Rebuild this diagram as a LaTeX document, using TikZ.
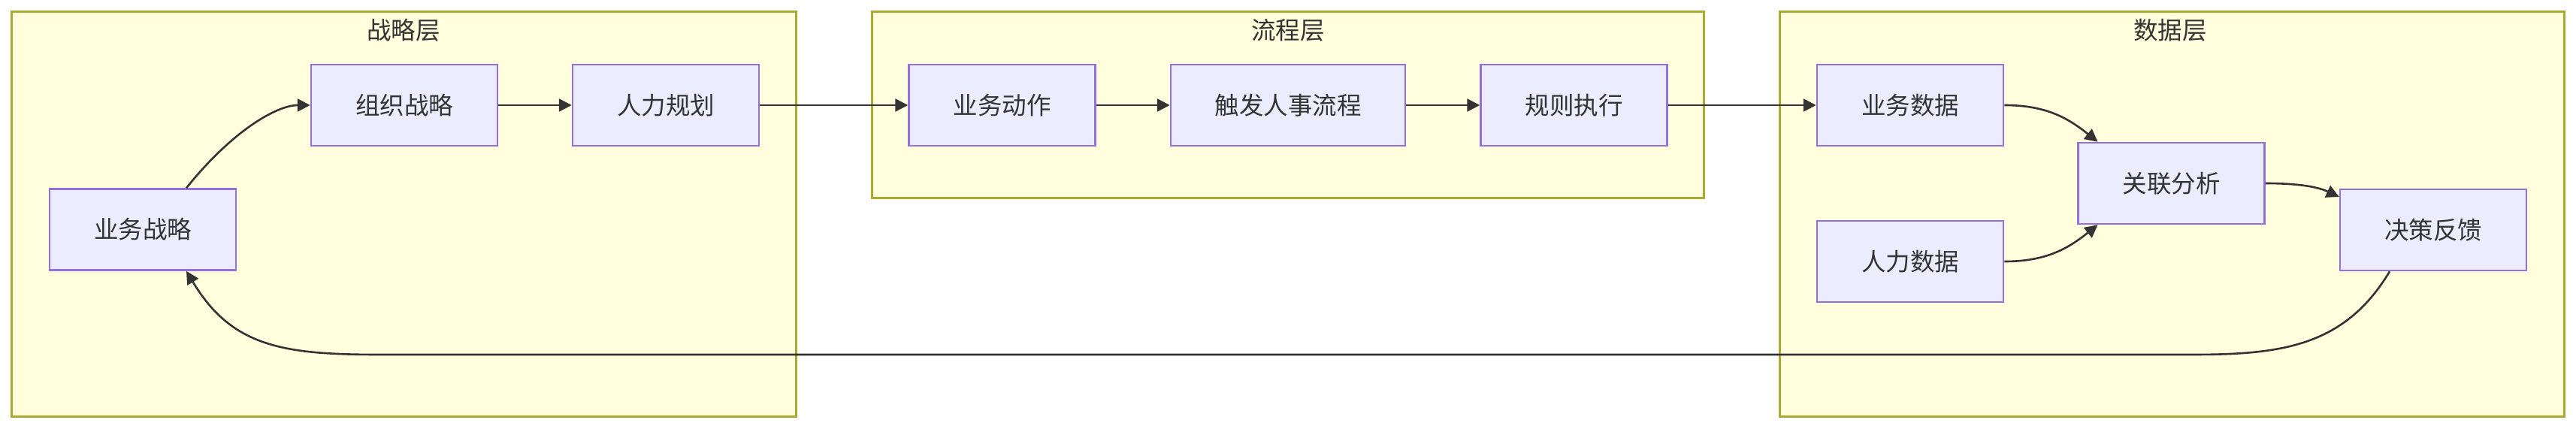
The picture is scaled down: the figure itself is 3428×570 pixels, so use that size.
\documentclass[tikz,border=0pt]{standalone}
\usepackage{fontspec}
\newfontfamily\cjk{Noto Sans CJK SC}
\usetikzlibrary{arrows.meta}
\definecolor{clfill}{HTML}{FFFFDE}
\definecolor{cldraw}{HTML}{AAAA33}
\definecolor{ndfill}{HTML}{ECECFF}
\definecolor{nddraw}{HTML}{9370DB}
\definecolor{txt}{HTML}{333333}
\tikzset{
  cluster/.style={draw=cldraw, fill=clfill, line width=3pt},
  cltitle/.style={font=\cjk\fontsize{32.5}{38}\selectfont, text=txt, inner sep=0pt},
  box/.style={draw=nddraw, fill=ndfill, line width=2.5pt, minimum height=108pt,
    minimum width=248pt, inner sep=0pt, font=\cjk\fontsize{32.5}{38}\selectfont, text=txt},
  wide/.style={minimum width=312pt},
  edge/.style={draw=txt, line width=2.6pt, -{Triangle[length=17pt,width=17pt]}}
}
\begin{document}
\begin{tikzpicture}[x=1pt,y=-1pt]
\useasboundingbox (0,0) rectangle (3428,570);
\fill[white] (0,0) rectangle (3428,570);
% clusters
\draw[cluster] (15,15.5) rectangle (1059,554.5);
\draw[cluster] (1160,15.5) rectangle (2267,263);
\draw[cluster] (2368,15.5) rectangle (3412,554.5);
\node[cltitle] (tA) at (537,40) {战略层};
\node[cltitle] (tB) at (1714,40) {流程层};
\node[cltitle] (tC) at (2888,40) {数据层};
% nodes
\node[box] (ys) at (190,305.5) {业务战略};
\node[box] (zz) at (538,140) {组织战略};
\node[box] (rl) at (886,140) {人力规划};
\node[box] (yd) at (1333.5,140) {业务动作};
\node[box,wide] (cf) at (1714,140) {触发人事流程};
\node[box] (gz) at (2094.5,140) {规则执行};
\node[box] (ysj) at (2542,140) {业务数据};
\node[box] (rsj) at (2542,348) {人力数据};
\node[box] (gl) at (2889.5,244) {关联分析};
\node[box] (jc) at (3238,306) {决策反馈};
% anchor coordinates
\coordinate (ysN) at ([xshift=58pt]ys.north);
\coordinate (ysS) at ([xshift=58pt]ys.south);
\coordinate (glNW) at ([xshift=-98pt]gl.north);
\coordinate (glSW) at ([xshift=-98pt]gl.south);
\coordinate (jcW) at ([yshift=44pt]jc.west);
\coordinate (jcS) at ([xshift=-58pt]jc.south);
% edges
\draw[edge] (ysN) .. controls ++(60,-75) and ++(-45,0) .. (zz.west);
\draw[edge] (zz.east) -- (rl.west);
\draw[edge] (rl.east) -- (yd.west);
\draw[edge] (yd.east) -- (cf.west);
\draw[edge] (cf.east) -- (gz.west);
\draw[edge] (gz.east) -- (ysj.west);
\draw[edge] (ysj.east) .. controls ++(55,0) and ++(-40,-32) .. (glNW);
\draw[edge] (rsj.east) .. controls ++(55,0) and ++(-40,32) .. (glSW);
\draw[edge] (gl.east) .. controls ++(40,0) and ++(-30,-14) .. (jcW);
\draw[edge] (jcS) .. controls ++(-60,100) and ++(120,0) .. (2916,472) -- (505,472)
  .. controls ++(-130,0) and ++(60,100) .. (ysS);
\end{tikzpicture}
\end{document}
